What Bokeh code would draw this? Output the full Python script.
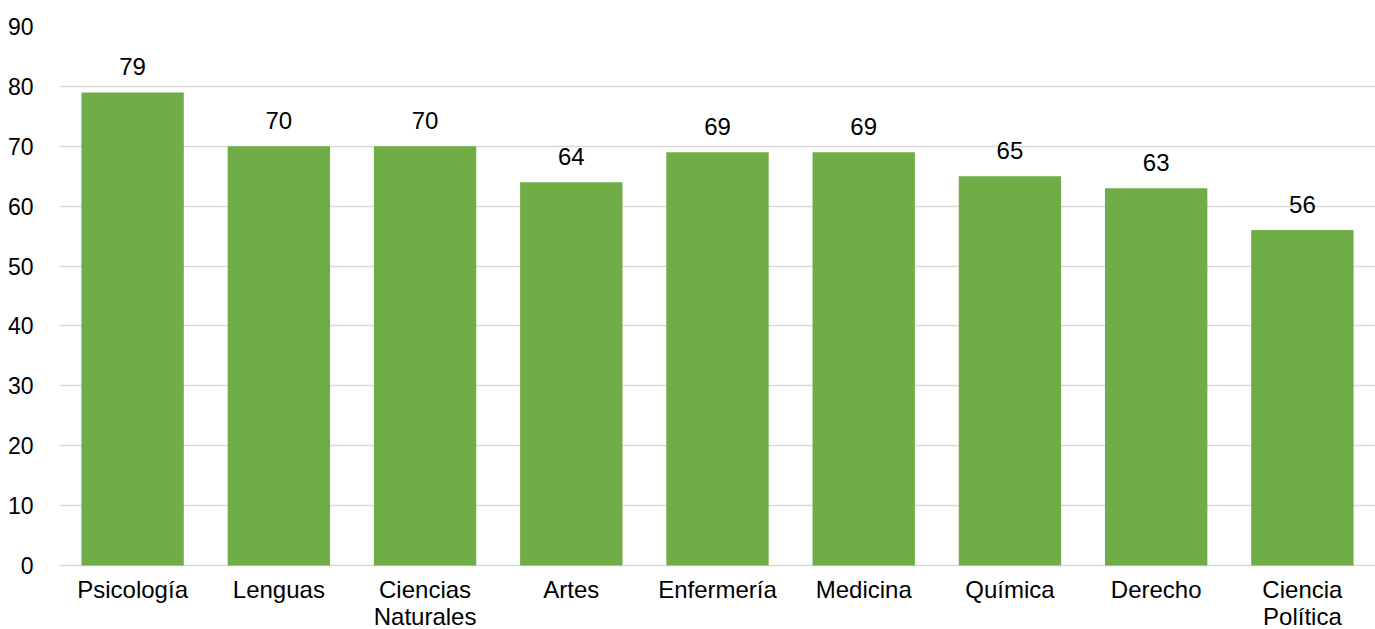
from bokeh.plotting import figure
from bokeh.models import ColumnDataSource, FactorRange, Range1d, FixedTicker
from bokeh.core.properties import value
from bokeh.embed import file_html
from bokeh.resources import INLINE

categories = ["Psicología", "Lenguas", "Ciencias\nNaturales", "Artes", "Enfermería",
              "Medicina", "Química", "Derecho", "Ciencia\nPolítica"]
values = [79, 70, 70, 64, 69, 69, 65, 63, 56]
y_ticks = [0, 10, 20, 30, 40, 50, 60, 70, 80, 90]

W, H = 1375, 629
top_px, zero_px = 26, 565
y_max = 90
y_min = -(H - zero_px) * y_max / (zero_px - top_px)

src = ColumnDataSource(dict(x=categories, y=values, label=[str(v) for v in values],
                            base=[0] * len(values)))

p = figure(width=W, height=H, x_range=FactorRange(*categories, range_padding=0),
           y_range=Range1d(y_min, y_max), output_backend="svg", toolbar_location=None,
           min_border_left=59, min_border_right=0, min_border_top=top_px, min_border_bottom=0)
p.outline_line_color = None
p.background_fill_color = "white"
p.xaxis.visible = False

p.vbar(x="x", top="y", bottom=0, width=0.7, source=src, fill_color="#70AD47", line_color=None)
p.text(x="x", y="y", text="label", source=src, text_align="center", text_baseline="bottom",
       y_offset=-17, text_font=value("Liberation Sans"), text_font_size="24px", text_color="#000000")
p.text(x="x", y="base", text="x", source=src, text_align="center", text_baseline="top",
       y_offset=10, text_font=value("Liberation Sans"), text_font_size="24px", text_color="#000000",
       text_line_height=1.0)

p.yaxis.ticker = FixedTicker(ticks=y_ticks)
p.yaxis.axis_line_color = None
p.yaxis.major_tick_line_color = None
p.yaxis.minor_tick_line_color = None
p.yaxis.major_label_text_font = "Liberation Sans"
p.yaxis.major_label_text_font_size = "23px"
p.yaxis.major_label_text_color = "#000000"
p.yaxis.major_label_standoff = 20

p.xgrid.grid_line_color = None
p.ygrid.grid_line_color = "#D9D9D9"
p.ygrid.grid_line_width = 1.5

open("out.html", "w").write(file_html(p, INLINE))
